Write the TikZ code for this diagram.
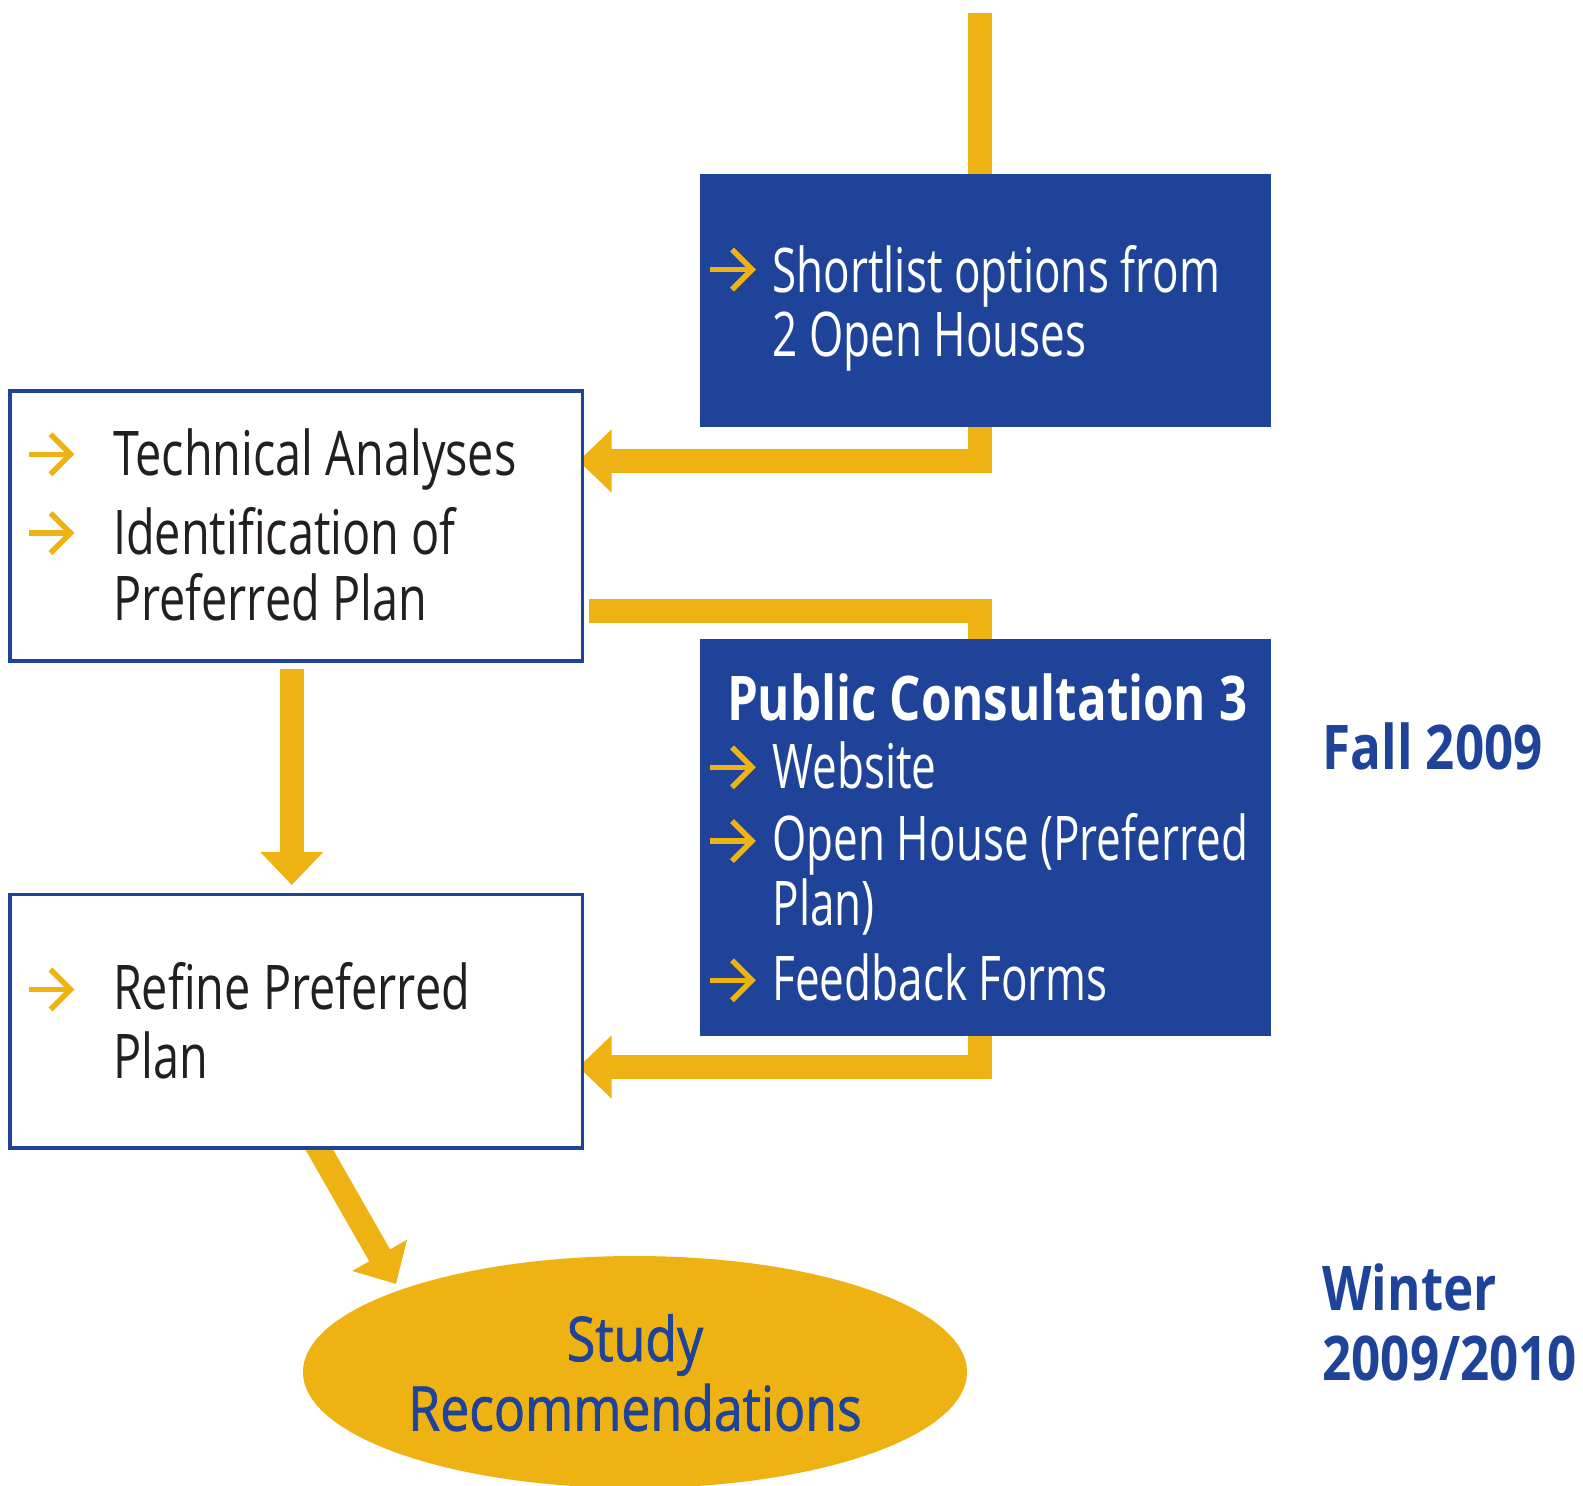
\documentclass[tikz,border=0pt]{standalone}
\usepackage{fontspec}
\setmainfont{Open Sans}[FakeStretch=0.76]
\newfontfamily\wfont{Open Sans}[FakeStretch=0.715]
\newfontfamily\pcfont{Open Sans}[FakeStretch=0.80]
\newfontfamily\sidefont{Open Sans}[FakeStretch=0.83]
\newfontfamily\medfont{Open Sans}[FakeStretch=0.84,FakeBold=1.2]
\usetikzlibrary{arrows.meta,shapes.geometric}
\definecolor{fblue}{HTML}{1E4398}
\definecolor{fyel}{HTML}{EEB313}
\definecolor{ftext}{HTML}{231F20}
\pgfdeclarelayer{bg}
\pgfsetlayers{bg,main}
\begin{document}
\begin{tikzpicture}[x=1pt,y=-1pt,
  every node/.style={inner sep=0pt, outer sep=0pt},
  txt/.style={anchor=base west, font=\fontsize{61.6}{66}\selectfont, text=ftext},
  wtxt/.style={anchor=base west, font=\wfont\fontsize{61.6}{66}\selectfont, text=white},
  sidetxt/.style={anchor=base west, font=\sidefont\bfseries\fontsize{61.6}{66}\selectfont, text=fblue},
  conn/.style={draw=fyel, line width=24pt, line join=miter},
  tipped/.style={-{Triangle[length=33pt,width=61pt]}},
  bluebox/.style={fill=fblue, minimum width=571pt},
  whitebox/.style={draw=fblue, fill=white, line width=3.5pt, minimum width=572.5pt},
  bul/.pic={
    \draw[fyel, line width=5.5pt] (0,0) -- (43,0);
    \draw[fyel, line width=5.5pt, line join=miter] (22,-20) -- (42,0) -- (22,20);
  }
]
\useasboundingbox (0,0) rectangle (1583,1486);

% boxes
\node[bluebox, minimum height=253pt] (sl) at (985.5,300.5) {};
\node[bluebox, minimum height=396.5pt] (pc) at (985.5,837.25) {};
\node[whitebox, minimum height=270pt] (ta) at (296.25,526) {};
\node[whitebox, minimum height=253.5pt] (rp) at (296.25,1021.25) {};
\node[ellipse, fill=fyel, minimum width=664pt, minimum height=232pt] (sr) at (635,1372) {};

% helper coordinates
\coordinate (top) at (979.7,12.7);
\coordinate (y1) at (0,461);
\coordinate (y2) at (0,611.3);
\coordinate (y3) at (0,1067);

% connectors
\begin{pgfonlayer}{bg}
\fill[white] (0,0) rectangle (1583,1486);
\draw[conn] (top) -- (top |- sl.north);
\draw[conn,tipped] (sl.south -| top) |- ([xshift=-4pt]ta.east |- y1);
\draw[conn] ([xshift=6.5pt]ta.east |- y2) -| (pc.north -| top);
\draw[conn,tipped] (pc.south -| top) |- ([xshift=-4pt]rp.east |- y3);
\draw[conn,tipped] ([xshift=-4.45pt,yshift=-8pt]ta.south) -- ([xshift=-4.45pt,yshift=9.5pt]rp.north);
\draw[conn,tipped] ([xshift=16.75pt,yshift=9.4pt]rp.south) -- ([xshift=-239pt,yshift=88pt]sr.center);
\end{pgfonlayer}

% Shortlist box
\pic at (710,269.6) {bul};
\node[wtxt] (sl1) at (772.5,292.5) {Shortlist options from};
\node[wtxt] (sl2) at (772.5,356.4) {2 Open Houses};

% Technical analyses box
\pic at (28.5,454.3) {bul};
\pic at (28.5,533) {bul};
\node[txt] (ta1) at (113,475.5) {Technical Analyses};
\node[txt] (ta2) at (113,554.3) {Identification of};
\node[txt] (ta3) at (113,620.9) {Preferred Plan};

% Public consultation box
\node[anchor=base west, text=white, font=\pcfont\bfseries\fontsize{61.6}{66}\selectfont] (pc0) at (727,720.8) {Public Consultation 3};
\pic at (710,767.3) {bul};
\pic at (710,841) {bul};
\pic at (710,980.3) {bul};
\node[wtxt] (pc1) at (772.5,788.5) {Website};
\node[wtxt] (pc2) at (772.5,860.2) {Open House (Preferred};
\node[wtxt] (pc3) at (772.5,925.8) {Plan)};
\node[wtxt] (pc4) at (772.5,1000.5) {Feedback Forms};

% Refine box
\pic at (28.5,989.4) {bul};
\node[txt] (rp1) at (113,1009.6) {Refine Preferred};
\node[txt] (rp2) at (113,1078.2) {Plan};

% Ellipse text
\node[anchor=base, font=\medfont\fontsize{61.6}{66}\selectfont, text=fblue] (sr1) at (635,1361) {Study};
\node[anchor=base, font=\medfont\fontsize{61.6}{66}\selectfont, text=fblue] (sr2) at (635,1430.6) {Recommendations};

% side labels
\node[sidetxt] (fall) at (1322.5,769.3) {Fall 2009};
\node[sidetxt] (win1) at (1322.5,1310.4) {Winter};
\node[sidetxt] (win2) at (1322.5,1380) {2009/2010};
\end{tikzpicture}
\end{document}
